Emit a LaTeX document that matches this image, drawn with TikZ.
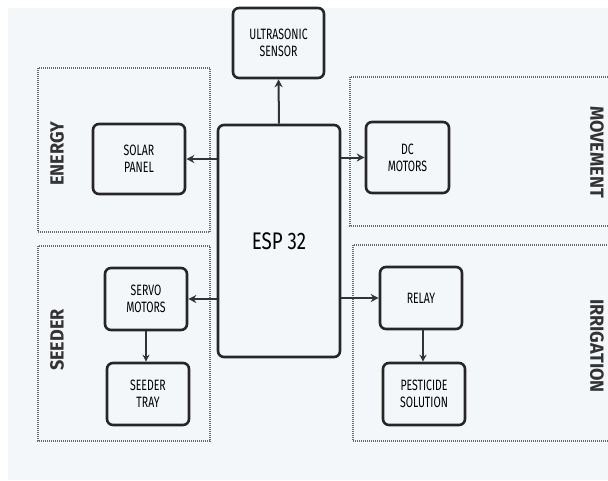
\documentclass[tikz,border=0pt]{standalone}
\usepackage{fontspec}
\setmainfont{Fira Sans}[FakeStretch=0.78]
\newfontfamily\boxfont{Fira Sans}[FakeStretch=0.7]
\newfontfamily\lblfont{Fira Sans}[FakeStretch=0.95]
\usetikzlibrary{arrows.meta}
\definecolor{bgc}{HTML}{F4F7FA}
\definecolor{grp}{HTML}{6A6A6A}
\begin{document}
\begin{tikzpicture}[x=1pt,y=-1pt,
  blk/.style={draw=black!85,line width=2.6pt,rounded corners=6pt,fill=bgc,align=center,font=\boxfont\fontsize{15}{17}\selectfont,inner sep=0pt},
  grpbox/.style={draw=grp,line width=2pt,dash pattern=on 1pt off 1pt},
  grplabel/.style={font=\lblfont\fontsize{19}{20}\selectfont\bfseries,text=black!80},
  arr/.style={-{Stealth[length=8pt,width=8pt]},line width=2pt,draw=black!80},
  arrs/.style={-{Stealth[length=7pt,width=7pt]},line width=1.6pt,draw=black!80}]
\useasboundingbox (0,0) rectangle (608,480);
\fill[white] (0,0) rectangle (608,480);
\fill[bgc] (8,8) rectangle (608,480);
% groups
\draw[grpbox] (38,68) rectangle (210,232);
\draw[grpbox] (350,77) rectangle (620,226);
\draw[grpbox] (38,246) rectangle (210,441);
\draw[grpbox] (353,245) rectangle (620,441);
\node[grplabel,rotate=90] (lenergy) at (57,154) {ENERGY};
\node[grplabel,rotate=90] (lseeder) at (57,340) {SEEDER};
\node[grplabel,rotate=-90] (lmove) at (597,152) {MOVEMENT};
\node[grplabel,rotate=-90] (lirr) at (597,346) {IRRIGATION};
% blocks
\node[blk,minimum width=91pt,minimum height=70pt] (sensor) at (278.5,43) {ULTRASONIC\\SENSOR};
\node[blk,minimum width=92pt,minimum height=70pt] (solar) at (139,159) {SOLAR\\PANEL};
\node[blk,minimum width=122pt,minimum height=232pt,font=\fontsize{24}{26}\selectfont] (esp) at (279,241) {ESP 32};
\node[blk,minimum width=83pt,minimum height=71pt] (dc) at (407.5,157.5) {DC\\MOTORS};
\node[blk,minimum width=82pt,minimum height=62pt] (servo) at (146,299) {SERVO\\MOTORS};
\node[blk,minimum width=82pt,minimum height=62pt] (tray) at (148,394) {SEEDER\\TRAY};
\node[blk,minimum width=82pt,minimum height=62pt] (relay) at (421,298) {RELAY};
\node[blk,minimum width=82pt,minimum height=62pt] (pest) at (424,394) {PESTICIDE\\SOLUTION};
% connectors
\draw[arr] (esp.north) -- (sensor.south);
\draw[arr] (esp.west |- solar.east) -- (solar.east);
\draw[arr] (esp.east |- dc.west) -- (dc.west);
\draw[arr] (esp.west |- servo.east) -- (servo.east);
\draw[arr] (esp.east |- relay.west) -- (relay.west);
\draw[arrs] (servo.south -| tray.north) ++(-2,0) coordinate (s1) -- (s1 |- tray.north);
\draw[arrs] (relay.south) ++(2,0) coordinate (r1) -- (r1 |- pest.north);
\end{tikzpicture}
\end{document}
